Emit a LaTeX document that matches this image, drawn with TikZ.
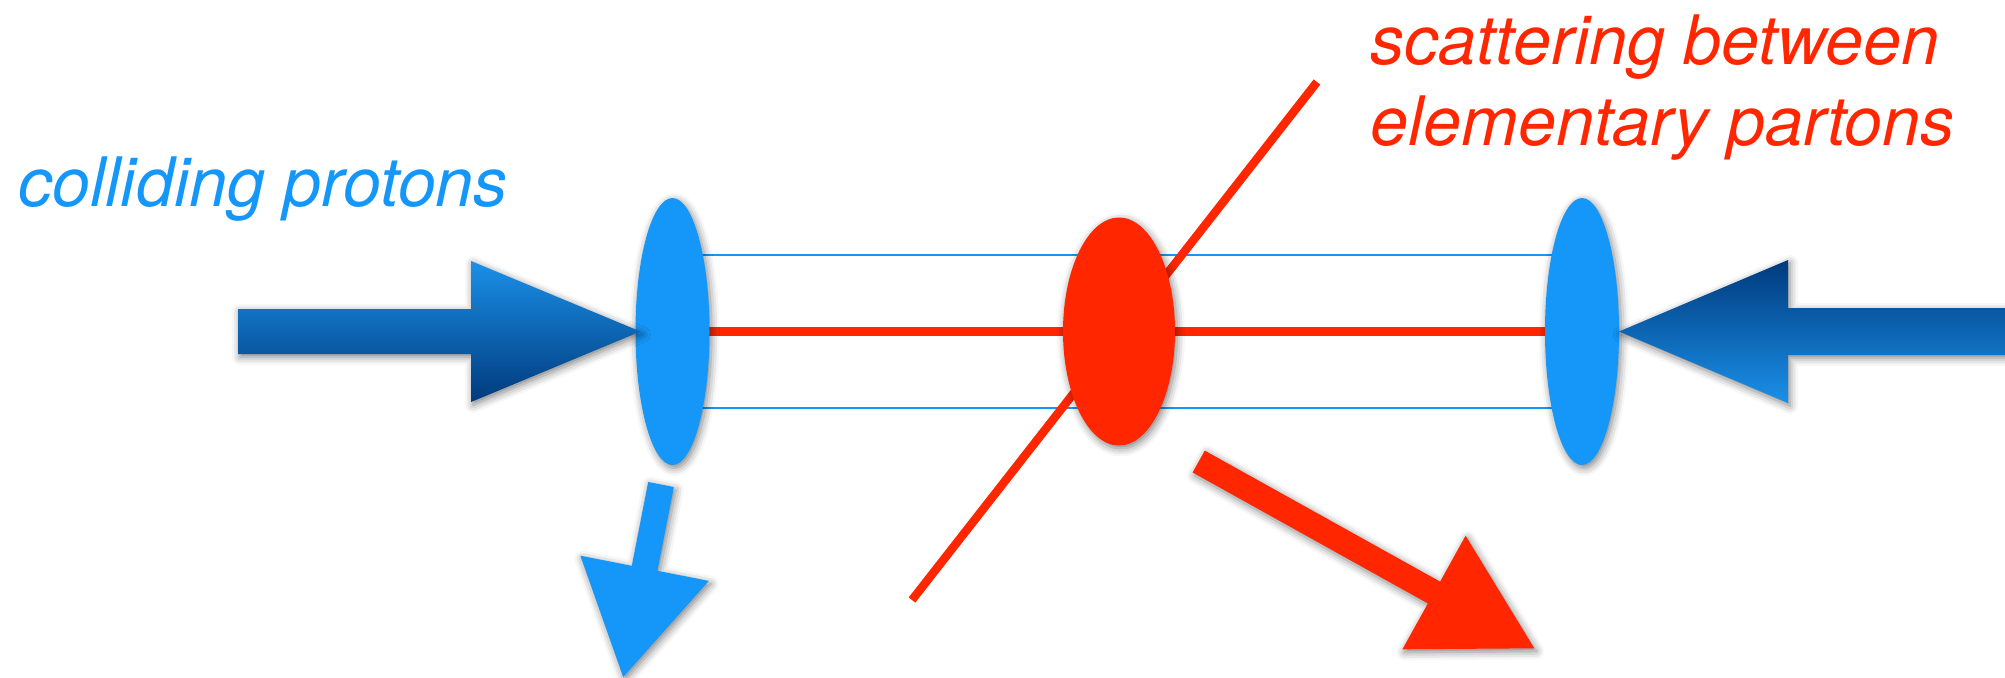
\documentclass[tikz,border=0pt]{standalone}
\usepackage{fontspec}
\setmainfont{TeX Gyre Heros}
\usetikzlibrary{shapes.geometric,shadows.blur,backgrounds,calc}
\definecolor{protonblue}{HTML}{1597F9}
\definecolor{partonred}{HTML}{FF2600}
\definecolor{beamlight}{HTML}{1A90E8}
\definecolor{beamdark}{HTML}{003A7D}
\begin{document}
\begin{tikzpicture}[
    soft/.style={blur shadow={shadow xshift=0.02cm,shadow yshift=-0.03cm,shadow blur radius=0.08cm,shadow opacity=50}},
    proton/.style={ellipse,fill=protonblue,inner sep=0,outer sep=0,minimum width=0.74cm,minimum height=2.67cm,soft},
    parton/.style={ellipse,fill=partonred,inner sep=0,outer sep=0,minimum width=1.12cm,minimum height=2.28cm,soft},
    tagtext/.style={font=\fontsize{19.4}{22.8}\selectfont\itshape,inner sep=0,anchor=base west,align=left}]
  \useasboundingbox (0,0) rectangle (20.05,6.77);
  \node[proton] (pl) at (6.725,3.455) {};
  \node[proton] (pr) at (15.82,3.455) {};
  \node[parton] (hit) at (11.19,3.455) {};
  \coordinate (jetup) at (13.17,5.95);
  \coordinate (jetdown) at (9.12,0.77);
  \shade[soft,top color=beamlight,bottom color=beamdark] (2.38,3.68) -- (4.71,3.68) -- (4.71,4.16) -- (6.405,3.455) -- (4.71,2.75) -- (4.71,3.23) -- (2.38,3.23) -- cycle;
  \shade[soft,top color=beamdark,bottom color=beamlight] (20.05,3.69) -- (17.88,3.69) -- (17.88,4.17) -- (16.19,3.455) -- (17.88,2.74) -- (17.88,3.22) -- (20.05,3.22) -- cycle;
  \fill[soft,protonblue] (6.482,1.950) -- (6.738,1.900) -- (6.574,1.062) -- (7.088,0.961) -- (6.232,0) -- (5.804,1.213) -- (6.318,1.112) -- cycle;
  \fill[soft,partonred] (11.926,2.046) -- (12.048,2.264) -- (14.401,0.954) -- (14.656,1.413) -- (15.343,0.287) -- (14.024,0.277) -- (14.279,0.736) -- cycle;
  \begin{scope}[on background layer]
    \draw[protonblue,line width=0.7pt] ($(pl.center)+(0,0.765)$) -- ($(pr.center)+(0,0.765)$);
    \draw[protonblue,line width=0.7pt] ($(pl.center)+(0,-0.765)$) -- ($(pr.center)+(0,-0.765)$);
    \draw[partonred,line width=2.6pt] (pl.center) -- (pr.center);
    \draw[partonred,line width=2.4pt] (jetdown) -- (jetup);
  \end{scope}
  \node[tagtext,text=protonblue] (beams) at (0.18,4.71) {colliding protons};
  \node[tagtext,text=partonred] (hard) at (13.70,5.32) {scattering between\\elementary partons};
\end{tikzpicture}
\end{document}
